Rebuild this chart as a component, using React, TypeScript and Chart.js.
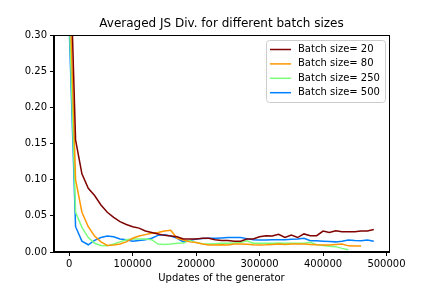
import React, { useEffect, useRef } from "react";
import { Chart, registerables } from "chart.js";

Chart.register(...registerables);

const TITLE = "Averaged JS Div. for different batch sizes";
const X_LABEL = "Updates of the generator";
const X_TICKS = [0, 100000, 200000, 300000, 400000, 500000];
const Y_TICKS = [0, 0.05, 0.1, 0.15, 0.2, 0.25, 0.3];

const updates = [
  0, 10000, 20000, 30000, 40000, 50000, 60000, 70000, 80000, 90000,
  100000, 110000, 120000, 130000, 140000, 150000, 160000, 170000, 180000, 190000,
  200000, 210000, 220000, 230000, 240000, 250000, 260000, 270000, 280000, 290000,
  300000, 310000, 320000, 330000, 340000, 350000, 360000, 370000, 380000, 390000,
  400000, 410000, 420000, 430000, 440000, 450000, 460000, 470000, 480000,
];

const labels = ["Batch size= 20", "Batch size= 80", "Batch size= 250", "Batch size= 500"];
const colors = ["#7f0000", "#ff9700", "#7bff7b", "#007fff"];

const batch20 = [
  0.45, 0.155, 0.108, 0.088, 0.078, 0.065, 0.055, 0.048, 0.042, 0.038,
  0.035, 0.033, 0.029, 0.027, 0.025, 0.023, 0.022, 0.021, 0.018, 0.018,
  0.018, 0.019, 0.019, 0.017, 0.016, 0.016, 0.015, 0.015, 0.018, 0.018,
  0.021, 0.0225, 0.022, 0.0245, 0.02, 0.0235, 0.02, 0.025, 0.0225, 0.0225,
  0.029, 0.027, 0.0295, 0.028, 0.028, 0.028, 0.029, 0.029, 0.031,
];
const batch80 = [
  0.38, 0.1, 0.055, 0.035, 0.022, 0.014, 0.009, 0.0097, 0.011, 0.014,
  0.019, 0.022, 0.024, 0.026, 0.027, 0.029, 0.03, 0.019, 0.0166, 0.014,
  0.013, 0.011, 0.0097, 0.0097, 0.01, 0.0097, 0.011, 0.011, 0.0107, 0.01,
  0.0097, 0.01, 0.0105, 0.011, 0.0105, 0.011, 0.011, 0.011, 0.0105, 0.01,
  0.0097, 0.0097, 0.0105, 0.011, 0.0085, 0.0082, 0.0083,
];
const batch250 = [
  0.33, 0.055, 0.034, 0.02, 0.012, 0.009, 0.0085, 0.011, 0.014, 0.017,
  0.018, 0.018, 0.018, 0.017, 0.011, 0.0105, 0.011, 0.012, 0.0125, 0.016,
  0.013, 0.0115, 0.011, 0.0115, 0.012, 0.012, 0.0125, 0.013, 0.0155, 0.012,
  0.012, 0.012, 0.012, 0.0125, 0.012, 0.012, 0.012, 0.012, 0.0135, 0.01,
  0.009, 0.008, 0.0074, 0.005, 0.003,
];
const batch500 = [
  0.31, 0.035, 0.015, 0.01, 0.016, 0.02, 0.022, 0.021, 0.018, 0.017,
  0.015, 0.016, 0.017, 0.019, 0.023, 0.024, 0.022, 0.019, 0.014, 0.016,
  0.018, 0.0185, 0.019, 0.019, 0.0195, 0.02, 0.02, 0.02, 0.0185, 0.017,
  0.0166, 0.0166, 0.017, 0.017, 0.017, 0.0175, 0.018, 0.019, 0.0157, 0.0155,
  0.015, 0.0145, 0.014, 0.015, 0.0166, 0.016, 0.0157, 0.0166, 0.015,
];

const seriesValues = [batch20, batch80, batch250, batch500];

const FONT = "'DejaVu Sans', sans-serif";

const decorPlugin = {
  id: "decor",
  afterDraw(chart: any) {
    const { ctx, chartArea } = chart;
    const { left, right, top, bottom } = chartArea;
    ctx.save();
    ctx.strokeStyle = "#000";
    ctx.lineWidth = 1;
    ctx.strokeRect(Math.round(left) - 0.5, Math.round(top) + 0.5, Math.round(right - left) + 1, Math.round(bottom - top) - 1);
    ctx.fillStyle = "#000";
    ctx.font = `12px ${FONT}`;
    ctx.textAlign = "center";
    ctx.textBaseline = "middle";
    ctx.fillText(TITLE, (left + right) / 2, top - 11);
    ctx.font = `10px ${FONT}`;
    ctx.fillText(X_LABEL, (left + right) / 2, bottom + 26);
    const bx = 266.5, by = 40.5, bw = 119, bh = 62, r = 3;
    ctx.beginPath();
    ctx.moveTo(bx + r, by);
    ctx.lineTo(bx + bw - r, by);
    ctx.arcTo(bx + bw, by, bx + bw, by + r, r);
    ctx.lineTo(bx + bw, by + bh - r);
    ctx.arcTo(bx + bw, by + bh, bx + bw - r, by + bh, r);
    ctx.lineTo(bx + r, by + bh);
    ctx.arcTo(bx, by + bh, bx, by + bh - r, r);
    ctx.lineTo(bx, by + r);
    ctx.arcTo(bx, by, bx + r, by, r);
    ctx.closePath();
    ctx.fillStyle = "rgba(255,255,255,0.8)";
    ctx.fill();
    ctx.strokeStyle = "#cccccc";
    ctx.lineWidth = 1;
    ctx.stroke();
    ctx.textAlign = "left";
    ctx.textBaseline = "middle";
    ctx.font = `10px ${FONT}`;
    chart.data.datasets.forEach((ds: any, i: number) => {
      const y = 49.5 + i * 14.4;
      ctx.strokeStyle = ds.borderColor;
      ctx.lineWidth = 1.5;
      ctx.beginPath();
      ctx.moveTo(270, y);
      ctx.lineTo(291, y);
      ctx.stroke();
      ctx.fillStyle = "#000";
      ctx.fillText(ds.label, 298, y);
    });
    ctx.restore();
  },
};

export default function App() {
  const ref = useRef<HTMLCanvasElement>(null);
  useEffect(() => {
    document.body.style.margin = "0";
    const canvas = ref.current!;
    const chart = new Chart(canvas, {
      type: "line",
      data: {
        datasets: seriesValues.map((vals, i) => ({
          label: labels[i],
          data: vals.map((v, j) => ({ x: updates[j], y: v })),
          borderColor: colors[i],
          backgroundColor: colors[i],
          borderWidth: 1.5,
          pointRadius: 0,
          tension: 0,
          fill: false,
        })),
      },
      options: {
        animation: false,
        responsive: false,
        devicePixelRatio: 1,
        layout: { padding: { left: 0, right: 43, top: 35, bottom: 0 } },
        plugins: { legend: { display: false }, title: { display: false }, tooltip: { enabled: false } },
        scales: {
          x: {
            type: "linear",
            min: -24000,
            max: 504000,
            afterFit: (s: any) => { s.height = 36; },
            afterBuildTicks: (s: any) => { s.ticks = X_TICKS.map((v) => ({ value: v })); },
            ticks: {
              includeBounds: false,
              color: "#000",
              font: { family: FONT, size: 10 },
              padding: 2,
              maxRotation: 0,
              autoSkip: false,
              callback: (v: any) => String(v),
            },
            grid: { drawOnChartArea: false, drawTicks: true, tickLength: 4, color: "#000" },
            border: { display: true, color: "#000" },
          },
          y: {
            type: "linear",
            min: 0,
            max: 0.3,
            afterFit: (s: any) => { s.width = 54; },
            afterBuildTicks: (s: any) => { s.ticks = Y_TICKS.map((v) => ({ value: v })); },
            ticks: {
              includeBounds: false,
              color: "#000",
              font: { family: FONT, size: 10 },
              padding: 3,
              autoSkip: false,
              callback: (v: any) => Number(v).toFixed(2),
            },
            grid: { drawOnChartArea: false, drawTicks: true, tickLength: 4, color: "#000" },
            border: { display: true, color: "#000" },
          },
        },
      },
      plugins: [decorPlugin],
    } as any);
    return () => chart.destroy();
  }, []);
  return (
    <div style={{ width: 432, height: 288 }}>
      <canvas ref={ref} width={432} height={288} style={{ width: 432, height: 288, display: "block" }} />
    </div>
  );
}
